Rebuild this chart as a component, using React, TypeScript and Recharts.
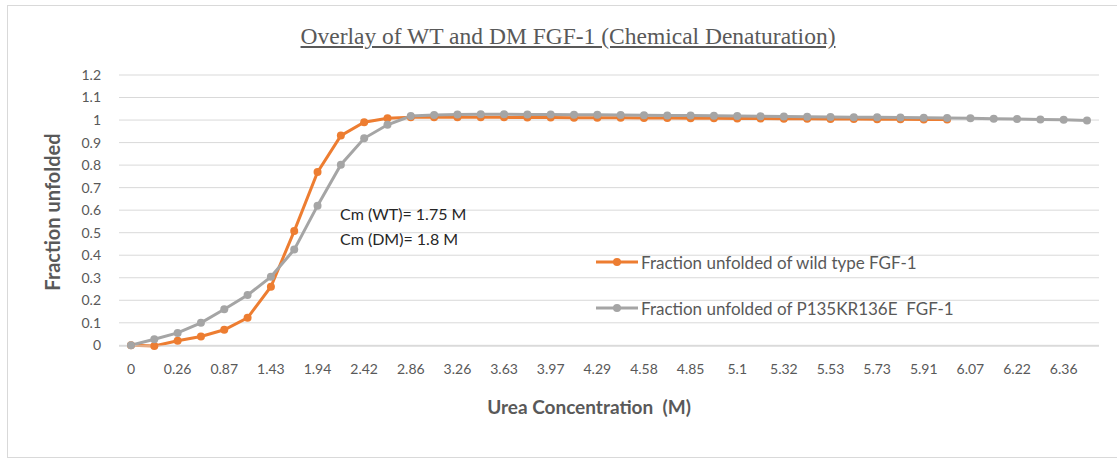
import React from "react";
import { LineChart, Line, XAxis, YAxis, CartesianGrid, Legend } from "recharts";

const ureaLabels = [
  "0", "0.13", "0.26", "0.57", "0.87", "1.16", "1.43", "1.70", "1.94", "2.19",
  "2.42", "2.65", "2.86", "3.07", "3.26", "3.45", "3.63", "3.80", "3.97", "4.13",
  "4.29", "4.44", "4.58", "4.72", "4.85", "4.98", "5.1", "5.21", "5.32", "5.43",
  "5.53", "5.63", "5.73", "5.82", "5.91", "5.99", "6.07", "6.15", "6.22", "6.29",
  "6.36", "6.43",
];

const wildTypeValues = [
  0, -0.003, 0.02, 0.039, 0.069, 0.122, 0.26, 0.507, 0.769, 0.931,
  0.99, 1.008, 1.012, 1.012, 1.013, 1.012, 1.012, 1.011, 1.011, 1.01,
  1.01, 1.01, 1.009, 1.009, 1.008, 1.008, 1.007, 1.007, 1.006, 1.006,
  1.005, 1.005, 1.004, 1.004, 1.003, 1.003,
];

const mutantValues = [
  0, 0.027, 0.055, 0.1, 0.16, 0.223, 0.304, 0.425, 0.62, 0.802,
  0.919, 0.979, 1.018, 1.022, 1.025, 1.026, 1.026, 1.025, 1.025, 1.024,
  1.023, 1.022, 1.021, 1.02, 1.02, 1.019, 1.018, 1.017, 1.016, 1.015,
  1.014, 1.013, 1.012, 1.011, 1.01, 1.009, 1.008, 1.006, 1.005, 1.003,
  1.001, 0.998,
];

const yTicks = [0, 0.1, 0.2, 0.3, 0.4, 0.5, 0.6, 0.7, 0.8, 0.9, 1, 1.1, 1.2];

const seriesNames = [
  "Fraction unfolded of wild type FGF-1",
  "Fraction unfolded of P135KR136E  FGF-1",
];
const seriesColors = ["#ED7D31", "#A5A5A5"];

const data = ureaLabels.map((x, i) => ({
  x,
  wt: i < wildTypeValues.length ? wildTypeValues[i] : undefined,
  dm: mutantValues[i],
}));

const FONT = "Lato, 'Open Sans', sans-serif";

const LegendContent = () => (
  <div style={{ fontFamily: FONT, fontSize: 17, color: "#595959", textAlign: "left" }}>
    {seriesNames.map((name, i) => (
      <div
        key={name}
        style={{ display: "flex", alignItems: "center", height: 22, marginBottom: i === 0 ? 24 : 0 }}
      >
        <svg width={42} height={12} style={{ flex: "none" }}>
          <line x1={0} y1={6} x2={42} y2={6} stroke={seriesColors[i]} strokeWidth={3} />
          <circle cx={21} cy={6} r={4} fill={seriesColors[i]} />
        </svg>
        <span style={{ marginLeft: 3, whiteSpace: "pre" }}>{name}</span>
      </div>
    ))}
  </div>
);

export default function App() {
  return (
    <div
      style={{
        position: "absolute",
        left: 0,
        top: 0,
        width: 1117,
        height: 460,
        background: "#fff",
        overflow: "hidden",
        fontFamily: FONT,
      }}
    >
      <div
        style={{
          position: "absolute",
          left: 7,
          top: 5,
          width: 1130,
          height: 451,
          border: "1px solid #d9d9d9",
        }}
      />
      <div
        style={{
          position: "absolute",
          left: 0,
          width: 1136,
          top: 23,
          textAlign: "center",
          fontFamily: "'Liberation Serif', 'Times New Roman', serif",
          fontSize: 23.5,
          color: "#595959",
          textDecoration: "underline",
          whiteSpace: "pre",
        }}
      >
        Overlay of WT and DM FGF-1 (Chemical Denaturation)
      </div>
      <LineChart
        width={1117}
        height={460}
        data={data}
        margin={{ top: 75, right: 18, bottom: 84, left: 0 }}
        style={{ position: "absolute", left: 0, top: 0 }}
      >
        <CartesianGrid vertical={false} stroke="#d9d9d9" strokeWidth={1} />
        <XAxis
          dataKey="x"
          interval={1}
          padding={{ left: 12, right: 12 }}
          tickLine={false}
          axisLine={{ stroke: "#d9d9d9" }}
          tickSize={0}
          tickMargin={18}
          height={30}
          tick={{ fill: "#595959", fontSize: 14, fontFamily: FONT }}
        />
        <YAxis
          domain={[0, 1.2]}
          ticks={yTicks}
          interval={0}
          width={119}
          axisLine={false}
          tickLine={false}
          tickSize={0}
          tickMargin={18}
          tick={{ fill: "#595959", fontSize: 14, fontFamily: FONT }}
        />
        <Legend
          layout="vertical"
          verticalAlign="middle"
          align="center"
          content={LegendContent}
          wrapperStyle={{ position: "absolute", left: 596, top: 251, width: 440 }}
        />
        <Line
          dataKey="wt"
          name={seriesNames[0]}
          stroke={seriesColors[0]}
          strokeWidth={3}
          dot={{ r: 4, fill: seriesColors[0], stroke: seriesColors[0], strokeWidth: 0 }}
          activeDot={false}
          isAnimationActive={false}
          connectNulls={false}
        />
        <Line
          dataKey="dm"
          name={seriesNames[1]}
          stroke={seriesColors[1]}
          strokeWidth={3}
          dot={{ r: 4, fill: seriesColors[1], stroke: seriesColors[1], strokeWidth: 0 }}
          activeDot={false}
          isAnimationActive={false}
        />
      </LineChart>
      <div
        style={{
          position: "absolute",
          left: 340,
          top: 201,
          fontSize: 16,
          color: "#262626",
          lineHeight: "25px",
          whiteSpace: "pre",
        }}
      >
        <div>Cm (WT)= 1.75 M</div>
        <div>Cm (DM)= 1.8 M</div>
      </div>
      <div
        style={{
          position: "absolute",
          left: 389,
          width: 400,
          top: 395,
          textAlign: "center",
          fontSize: 19,
          fontWeight: 700,
          color: "#595959",
          whiteSpace: "pre",
        }}
      >
        Urea Concentration  (M)
      </div>
      <div
        style={{
          position: "absolute",
          left: 52 - 110,
          top: 212 - 12,
          width: 220,
          height: 24,
          lineHeight: "24px",
          textAlign: "center",
          transform: "rotate(-90deg)",
          fontSize: 20,
          fontWeight: 700,
          color: "#595959",
          whiteSpace: "pre",
        }}
      >
        Fraction unfolded
      </div>
    </div>
  );
}
